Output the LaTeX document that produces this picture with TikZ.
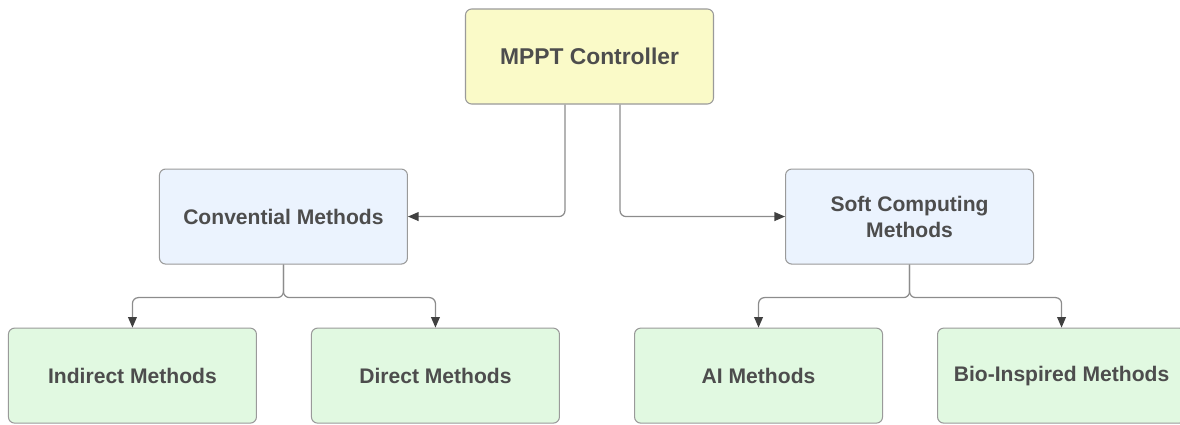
\documentclass[tikz,border=0pt]{standalone}
\usepackage{fontspec}
\setmainfont{Liberation Sans}
\usepackage{tikz}
\usetikzlibrary{arrows.meta,positioning}
\definecolor{MpptYellow}{HTML}{FAFAC8}
\definecolor{MethBlue}{HTML}{EBF3FE}
\definecolor{MethGreen}{HTML}{E1F9E1}
\definecolor{EdgeGray}{HTML}{9A9A9A}
\definecolor{LineGray}{HTML}{8C8C8C}
\definecolor{TextGray}{HTML}{4D4D4D}
\tikzset{
  basebox/.style={rectangle,rounded corners=3.5pt,draw=EdgeGray,line width=0.6pt,minimum width=4.96cm,minimum height=1.9cm,align=center,font=\fontsize{12}{14.7}\selectfont\bfseries,text=TextGray},
  topbox/.style={basebox,fill=MpptYellow,font=\fontsize{13}{15.5}\selectfont\bfseries},
  groupbox/.style={basebox,fill=MethBlue},
  leafbox/.style={basebox,fill=MethGreen},
  arrow/.style={-{Triangle[length=6pt,width=5pt,color=black!75]},line width=0.7pt,color=LineGray,rounded corners=0.12cm},
}
\begin{document}
\begin{tikzpicture}
  \clip (0,0) rectangle (23.6,-8.48);
  \node[topbox] (mppt) at (11.79,-1.13) {MPPT Controller};
  \node[groupbox, below left=1.28cm and 1.14cm of mppt.south west, anchor=north east] (conv) {Convential Methods};
  \node[groupbox, below right=1.28cm and 1.42cm of mppt.south east, anchor=north west] (soft) {Soft Computing\\Methods};
  \node[leafbox, below=1.26cm of conv, xshift=-3.02cm] (indirect) {Indirect Methods};
  \node[leafbox, below=1.26cm of conv, xshift=3.04cm] (direct) {Direct Methods};
  \node[leafbox, below=1.26cm of soft, xshift=-3.02cm] (ai) {AI Methods};
  \node[leafbox, below=1.26cm of soft, xshift=3.04cm] (bio) {Bio-Inspired Methods};

  \draw[arrow] ([xshift=-0.49cm]mppt.south) |- (conv.east);
  \draw[arrow] ([xshift=0.61cm]mppt.south) |- (soft.west);
  \draw[arrow] (conv.south) -- ++(0,-0.66) -| (indirect.north);
  \draw[arrow] (conv.south) -- ++(0,-0.66) -| (direct.north);
  \draw[arrow] (soft.south) -- ++(0,-0.66) -| (ai.north);
  \draw[arrow] (soft.south) -- ++(0,-0.66) -| (bio.north);
\end{tikzpicture}
\end{document}
